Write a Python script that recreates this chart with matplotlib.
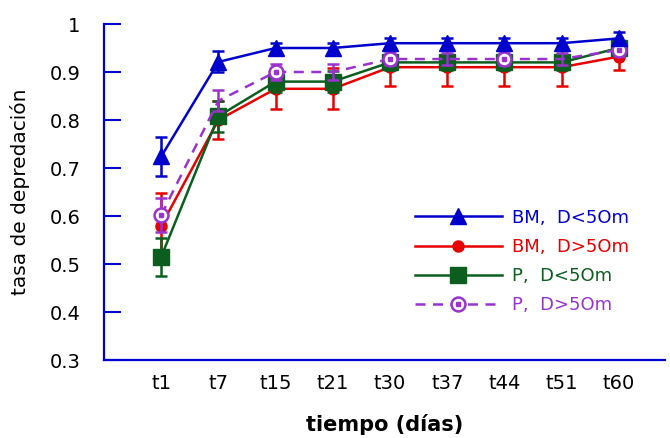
import matplotlib
matplotlib.use("Agg")
import matplotlib.pyplot as plt
from matplotlib.lines import Line2D
import numpy as np

categories = ["t1", "t7", "t15", "t21", "t30", "t37", "t44", "t51", "t60"]

bm_lt50 = [0.724, 0.921, 0.950, 0.950, 0.960, 0.960, 0.960, 0.960, 0.970]
bm_lt50_err = [0.040, 0.022, 0.010, 0.010, 0.010, 0.010, 0.010, 0.010, 0.014]

bm_gt50 = [0.580, 0.800, 0.865, 0.865, 0.910, 0.910, 0.910, 0.910, 0.932]
bm_gt50_err = [0.068, 0.040, 0.043, 0.043, 0.040, 0.040, 0.040, 0.040, 0.027]

p_lt50 = [0.515, 0.808, 0.880, 0.880, 0.920, 0.920, 0.920, 0.920, 0.950]
p_lt50_err = [0.040, 0.032, 0.022, 0.022, 0.015, 0.015, 0.015, 0.015, 0.012]

p_gt50 = [0.602, 0.840, 0.900, 0.900, 0.927, 0.927, 0.927, 0.927, 0.946]
p_gt50_err = [0.035, 0.022, 0.016, 0.016, 0.012, 0.012, 0.012, 0.012, 0.012]

series_labels = ["BM,  D<5Om", "BM,  D>5Om", "P,  D<5Om", "P,  D>5Om"]

yticks = [0.3, 0.4, 0.5, 0.6, 0.7, 0.8, 0.9, 1.0]
ytick_labels = ["0.3", "0.4", "0.5", "0.6", "0.7", "0.8", "0.9", "1"]

blue = "#0000CC"
red = "#E60000"
green = "#0B5E1E"
purple = "#9933CC"
axis_blue = "#0000CC"

fig = plt.figure(figsize=(6.7, 4.38), dpi=100)
ax = fig.add_axes([104/670, 1-360/438, (665-104)/670, (360-24)/438])

x = np.arange(1, len(categories) + 1)
lw = 1.8
dash = (0, (4, 3))

# red
ax.errorbar(x, bm_gt50, yerr=bm_gt50_err, color=red, lw=lw, marker="o", ms=8,
            capsize=4, capthick=1.8, elinewidth=1.8, zorder=2)
# green
ax.errorbar(x, p_lt50, yerr=p_lt50_err, color=green, lw=lw, marker="s", ms=11,
            capsize=4, capthick=1.8, elinewidth=1.8, zorder=3)
# purple
ax.errorbar(x, p_gt50, yerr=p_gt50_err, color=purple, elinewidth=1.8,
            capsize=4, capthick=1.8, fmt="none", zorder=4)
ax.plot(x, p_gt50, color=purple, lw=lw, ls=dash, marker="o", ms=10,
        mfc="white", mec=purple, mew=1.8, markevery=2, zorder=4)
ax.plot(x, p_gt50, color=purple, lw=0, marker="s", ms=2.2, markevery=2, zorder=4.1)
# blue
ax.errorbar(x, bm_lt50, yerr=bm_lt50_err, color=blue, lw=lw, marker="^", ms=11,
            capsize=4, capthick=1.8, elinewidth=1.8, zorder=5)

ax.set_xlim(0, (665-103)/57.3)
ax.set_ylim(0.3, 1.0)
ax.set_xticks(x)
ax.set_xticklabels(categories, fontsize=14)
ax.set_yticks(yticks)
ax.set_yticklabels(ytick_labels, fontsize=14)
ax.tick_params(axis="x", length=0, pad=10)
ax.tick_params(axis="y", direction="in", length=12, width=1.5, color=axis_blue, pad=17)

for s in ["top", "right"]:
    ax.spines[s].set_visible(False)
for s in ["left", "bottom"]:
    ax.spines[s].set_color(axis_blue)
    ax.spines[s].set_linewidth(1.6)

ax.set_ylabel("tasa de depredación", fontsize=14.5)
ax.set_xlabel("tiempo (días)", fontsize=15, fontweight="bold")
ax.yaxis.set_label_coords((30-104)/561, 0.5)
ax.xaxis.set_label_coords(0.5, (360-414)/336)

# legend handles
h1 = Line2D([], [], color=blue, lw=lw, marker="^", ms=11)
h2 = Line2D([], [], color=red, lw=lw, marker="o", ms=8)
h3 = Line2D([], [], color=green, lw=lw, marker="s", ms=11)
h4a = Line2D([], [], color=purple, lw=lw, ls=dash, marker="o", ms=10,
             mfc="white", mec=purple, mew=1.8)
h4b = Line2D([], [], color=purple, lw=0, marker="s", ms=2.2)
leg = fig.legend([h1, h2, h3, (h4a, h4b)], series_labels,
                 loc="center left", bbox_to_anchor=(415/670, 1-261.5/438),
                 frameon=False, fontsize=13, handlelength=4.8, handletextpad=0.55,
                 labelspacing=0.62, borderpad=0, borderaxespad=0, numpoints=1)
for t, c in zip(leg.get_texts(), [blue, red, green, purple]):
    t.set_color(c)

fig.savefig("out.png", dpi=100)
